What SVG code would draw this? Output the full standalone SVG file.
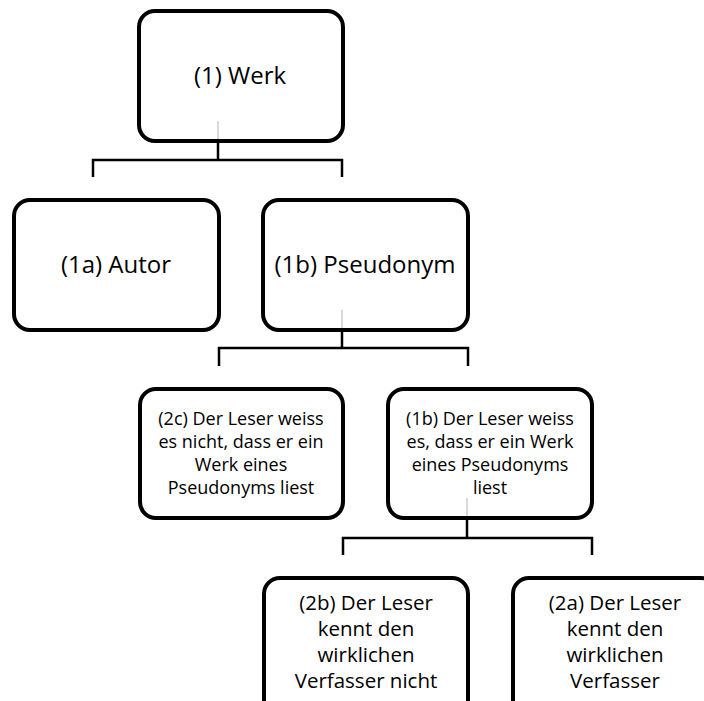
<svg xmlns="http://www.w3.org/2000/svg" width="704" height="701" viewBox="0 0 704 701">
<style>
.box{fill:#fff;stroke:#000;stroke-width:4}
.t{font-family:"Open Sans","Noto Sans",sans-serif;fill:#000;text-anchor:middle}
.big{font-size:24px}
.mid{font-size:18px}
.sm{font-size:20.5px}
.c{fill:none;stroke:#000;stroke-width:2.5}
.g{fill:none;stroke:#d9d9d9;stroke-width:2}
</style>
<rect width="704" height="701" fill="#fff"/>
<g id="n1"><rect class="box" x="139" y="11" width="204" height="130" rx="16"/><text class="t big" x="240" y="84">(1) Werk</text></g>
<g id="n1a"><rect class="box" x="14" y="200" width="205" height="130" rx="16"/><text class="t big" x="116" y="273">(1a) Autor</text></g>
<g id="n1b"><rect class="box" x="263" y="200" width="205" height="130" rx="16"/><text class="t big" x="365" y="273">(1b) Pseudonym</text></g>
<g id="n2c"><rect class="box" x="140" y="389" width="203" height="129" rx="16"/><text class="t mid" x="241"><tspan x="241" y="425">(2c) Der Leser weiss</tspan><tspan x="241" y="448">es nicht, dass er ein</tspan><tspan x="241" y="471">Werk eines</tspan><tspan x="241" y="494">Pseudonyms liest</tspan></text></g>
<g id="n1b2"><rect class="box" x="388" y="389" width="204" height="129" rx="16"/><text class="t mid" x="490"><tspan x="490" y="425">(1b) Der Leser weiss</tspan><tspan x="490" y="448">es, dass er ein Werk</tspan><tspan x="490" y="471">eines Pseudonyms</tspan><tspan x="490" y="494">liest</tspan></text></g>
<g id="n2b"><rect class="box" x="264" y="578" width="204" height="140" rx="16"/><text class="t sm" x="366"><tspan x="366" y="610">(2b) Der Leser</tspan><tspan x="366" y="636">kennt den</tspan><tspan x="366" y="662">wirklichen</tspan><tspan x="366" y="688">Verfasser nicht</tspan></text></g>
<g id="n2a"><rect class="box" x="513" y="578" width="204" height="140" rx="16"/><text class="t sm" x="615"><tspan x="615" y="610">(2a) Der Leser</tspan><tspan x="615" y="636">kennt den</tspan><tspan x="615" y="662">wirklichen</tspan><tspan x="615" y="688">Verfasser</tspan></text></g>
<g id="connectors">
<path class="g" d="M218 121V139M342 310V328M467 498V516"/>
<path class="c" d="M218 143V160M93 177V160H342V177"/>
<path class="c" d="M342 332V348M219 366V348H468V366"/>
<path class="c" d="M467 520V538M343 555V538H592V555"/>
</g>
</svg>
